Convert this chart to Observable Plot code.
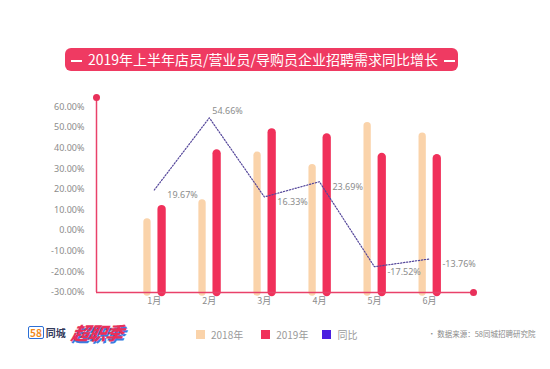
<!DOCTYPE html>
<html>
<head>
<meta charset="utf-8">
<script src="https://cdn.jsdelivr.net/npm/d3@7"></script>
<script src="https://cdn.jsdelivr.net/npm/@observablehq/plot@0.6"></script>
<style>
  html, body { margin: 0; padding: 0; background: #fff; }
  body { font-family: "Noto Sans CJK SC", "Noto Sans", sans-serif; }
  #wrap { position: relative; width: 550px; height: 369px; overflow: hidden; background: #fff; }
  #chart { position: absolute; left: 0; top: 0; }
  #title { position: absolute; left: 65px; top: 48px; width: 393px; height: 23px; background: #ef3a62; border-radius: 6px;
           color: #fff; font-size: 14px; line-height: 23px; text-align: center; white-space: nowrap; }
  #title .d { display: inline-block; width: 11px; height: 1.6px; background: #fff; vertical-align: middle; margin: 0 6px; }
  #legend { position: absolute; top: 327px; left: 196px; font-size: 10px; color: #9a9a9a; display: flex; align-items: center; }
  #legend .it { display: flex; align-items: center; }
  #legend .sw { width: 9px; height: 9px; display: inline-block; margin-right: 6px; }
  #source { position: absolute; top: 328px; left: 428px; font-size: 7.5px; color: #8a8a8a; white-space: nowrap; }
  #logo { position: absolute; left: 28px; top: 319px; white-space: nowrap; display: flex; align-items: center; }
  #logo .b58 { font-size: 10px; font-weight: bold; color: #f08a1c; border: 1px solid #2c6fd6; border-radius: 2px; padding: 0 1px; line-height: 11px; }
  #logo .tc { font-size: 10px; color: #333a5c; margin-left: 2px; font-weight: bold; }
  #logo .cz { font-size: 18px; font-weight: 900; font-style: italic; color: #e8305a; margin-left: 6px; text-shadow: 1.5px 1.5px 0 #3a7be0; letter-spacing: -1px; transform: skewX(-12deg); display: inline-block; }
</style>
</head>
<body>
<div id="wrap">
  <div id="chart"></div>
  <div id="title"><span class="d"></span>2019年上半年店员/营业员/导购员企业招聘需求同比增长<span class="d"></span></div>
  <div id="logo"><span class="b58">58</span><span class="tc">同城</span><span class="cz">超职季</span></div>
  <div id="legend"></div>
  <div id="source">• 数据来源：58同城招聘研究院</div>
</div>
<script>
const months = ["1月", "2月", "3月", "4月", "5月", "6月"];
const v2018 = [4, 13.2, 36.3, 30.3, 50.6, 45.5];
const v2019 = [10.2, 37.2, 47.4, 44.9, 35.5, 34.9];
const yoy = [19.67, 54.66, 16.33, 23.69, -17.52, -13.76];
const yTicks = [-30, -20, -10, 0, 10, 20, 30, 40, 50, 60];
const seriesNames = ["2018年", "2019年", "同比"];
const seriesColors = ["#fad3aa", "#f0305a", "#4a1fe0"];

const rows = months.map((m, i) => ({i: i + 1, m, a: v2018[i], b: v2019[i], r: yoy[i]}));
const xDom = [-0.05, 6.8];
const yDom = [-30, 64.5];
const peak = d3.max(yoy);
const axisColor = "#e9416a";

const chart = Plot.plot({
  width: 550,
  height: 369,
  marginTop: 97,
  marginBottom: 77,
  marginLeft: 96,
  marginRight: 77,
  style: {fontFamily: "'Noto Sans', 'Noto Sans CJK SC', sans-serif", fontSize: "9px", color: "#8c8c8c", background: "transparent"},
  x: {domain: xDom, axis: null},
  y: {domain: yDom, ticks: yTicks, tickFormat: d => d.toFixed(2) + "%", tickSize: 0, tickPadding: 12, label: null},
  marks: [
    Plot.ruleX(rows, {x: "i", y1: yDom[0], y2: "a", stroke: seriesColors[0], strokeWidth: 7.3, strokeLinecap: "round", dx: -7.3}),
    Plot.ruleX(rows, {x: "i", y1: yDom[0], y2: "b", stroke: seriesColors[1], strokeWidth: 8.3, strokeLinecap: "round", dx: 7.3}),
    Plot.line(rows, {x: "i", y: "r", stroke: "#54469a", strokeWidth: 1.2, strokeDasharray: "1.3,1.7"}),
    Plot.text(rows.filter(d => d.r !== peak), {x: "i", y: "r", text: d => d.r.toFixed(2) + "%", textAnchor: "start", dx: 13, dy: 5, fill: "#8c8c8c"}),
    Plot.text(rows.filter(d => d.r === peak), {x: "i", y: "r", text: d => d.r.toFixed(2) + "%", textAnchor: "start", dx: 3, dy: -7, fill: "#8c8c8c"}),
    Plot.ruleX([xDom[0]], {y1: yDom[0], y2: yDom[1], stroke: axisColor, strokeWidth: 1.5}),
    Plot.ruleY([yDom[0]], {x1: xDom[0], x2: xDom[1], stroke: axisColor, strokeWidth: 1.5}),
    Plot.dot([[xDom[0], yDom[1]], [xDom[1], yDom[0]]], {x: d => d[0], y: d => d[1], r: 3.5, fill: "#e8305a", stroke: null}),
    Plot.text(rows, {x: "i", y: yDom[0], text: "m", dy: 9, fill: "#8c8c8c", fontFamily: "'Noto Sans CJK SC', sans-serif"})
  ]
});
document.getElementById("chart").appendChild(chart);

const legend = document.getElementById("legend");
const gaps = [18, 14, 0];
seriesNames.forEach((n, k) => {
  const it = document.createElement("span");
  it.className = "it";
  it.style.marginRight = gaps[k] + "px";
  it.innerHTML = `<span class="sw" style="background:${seriesColors[k]}"></span><span>${n}</span>`;
  legend.appendChild(it);
});
</script>
</body>
</html>
